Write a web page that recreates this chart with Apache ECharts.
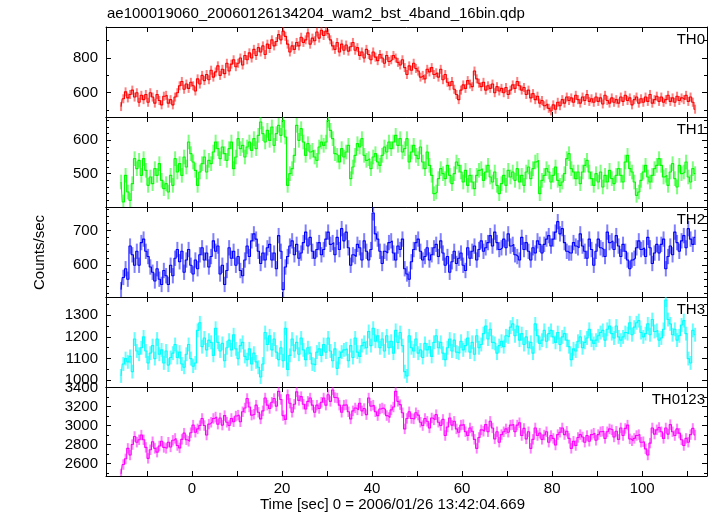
<!DOCTYPE html>
<html>
<head>
<meta charset="utf-8">
<script src="https://cdn.jsdelivr.net/npm/echarts@6/dist/echarts.min.js"></script>
<style>html,body{margin:0;padding:0;background:#fff;}#c{width:717px;height:516px;}</style>
</head>
<body>
<div id="c"></div>
<script>
// bins: 0.5 s wide, first bin centre at -15.75 s
const tStart = -15.75;
const binWidth = 0.5;

const th0 = [
520,565,605,570,590,615,575,600,545,585,
560,590,545,600,575,540,590,555,530,580,
585,540,560,530,575,600,640,665,620,650,
625,660,640,610,680,650,700,670,705,675,
730,690,720,755,700,735,710,770,725,765,
790,750,770,800,760,815,790,830,800,850,
815,860,835,870,820,880,855,905,870,895,
935,905,955,925,880,835,870,850,890,870,
920,890,905,945,880,915,900,950,915,960,
930,955,940,905,870,850,890,835,880,845,
875,840,865,890,845,860,815,835,800,850,
820,790,835,805,785,820,800,770,815,780,
790,815,800,775,760,790,745,705,755,730,
770,740,725,690,700,680,735,720,745,705,
715,690,735,675,705,660,640,665,620,590,
560,615,645,625,670,650,635,725,680,655,
635,660,615,640,625,650,600,635,610,625,
600,630,590,615,645,625,665,640,615,630,
590,615,570,595,560,580,540,555,525,535,
510,495,530,505,545,525,560,540,575,555,
570,545,585,560,540,575,555,590,550,565,
545,575,550,570,535,585,555,540,570,545,
560,540,575,550,585,555,570,530,560,575,
540,565,545,575,550,590,540,560,580,550,
575,545,560,585,550,570,545,580,555,570,
560,585,550,575,545,505];

const th1 = [
475,415,495,445,420,470,545,515,540,495,
545,510,465,490,470,515,495,530,480,455,
470,445,495,465,545,505,530,495,550,520,
595,560,535,510,465,505,530,550,505,540,
530,565,595,575,545,580,560,540,575,595,
515,550,605,575,585,550,580,595,570,605,
575,615,655,620,595,630,600,640,585,620,
645,615,660,610,465,500,515,555,645,600,
635,595,555,590,565,570,550,540,580,595,
585,595,660,630,605,560,555,535,575,550,
565,585,485,520,555,590,580,605,555,540,
545,515,550,560,535,525,555,580,565,595,
575,595,615,585,605,565,575,605,535,565,
585,555,545,580,535,515,565,525,495,440,
445,485,515,500,485,525,495,470,500,535,
525,505,475,510,465,495,475,455,495,510,
515,480,505,525,490,475,505,465,440,470,
495,465,510,490,505,480,515,475,495,465,
505,520,485,515,535,540,440,480,495,515,
505,475,495,520,480,465,475,500,545,560,
515,505,485,505,470,505,525,540,505,485,
465,500,475,505,460,495,475,510,485,470,
495,515,495,475,535,555,515,505,475,435,
445,480,505,525,490,475,495,515,525,545,
525,490,495,465,505,530,485,460,525,500,
505,535,490,475,515,500];

const th2 = [
530,565,590,560,655,630,600,640,600,665,
675,640,625,595,580,555,590,560,545,585,
570,545,600,570,620,645,610,640,580,615,
645,600,575,615,590,630,650,615,635,595,
625,670,640,655,575,600,545,585,650,620,
640,600,625,585,570,615,655,625,670,690,
675,640,605,635,615,650,660,615,635,590,
685,640,530,595,625,655,670,630,660,620,
635,665,695,655,680,640,620,645,665,630,
645,675,695,660,665,630,680,645,705,670,
695,650,600,630,625,660,650,615,670,640,
615,645,750,690,675,640,605,640,635,665,
670,635,615,655,645,675,590,575,560,610,
645,665,675,640,615,625,650,615,630,650,
660,625,670,635,600,625,580,610,640,605,
620,635,600,585,650,620,640,655,615,645,
670,640,650,665,685,655,695,665,645,650,
675,650,690,655,660,630,625,615,680,645,
665,640,615,650,635,670,660,635,660,675,
685,655,675,695,725,690,705,665,640,635,
635,665,655,650,690,655,640,620,675,645,
600,640,675,650,645,625,695,665,670,645,
685,655,625,660,640,615,590,615,620,650,
670,645,650,625,680,650,605,635,660,635,
660,675,590,625,655,630,695,665,640,670,
685,650,705,675,660,680];

const th3 = [
1020,1075,1100,1085,1110,1040,1190,1135,1120,1150,
1200,1135,1080,1125,1160,1100,1190,1120,1140,1080,
1135,1070,1105,1125,1165,1105,1130,1075,1060,1120,
1165,1100,1065,1080,1230,1265,1155,1195,1140,1185,
1175,1115,1240,1175,1135,1170,1090,1150,1185,1140,
1210,1145,1100,1160,1175,1110,1095,1145,1075,1125,
1085,1060,1015,1075,1220,1165,1205,1140,1190,1130,
1095,1150,1090,1240,1050,1115,1190,1135,1175,1120,
1195,1140,1095,1150,1125,1075,1070,1130,1145,1115,
1165,1130,1195,1135,1090,1145,1055,1105,1130,1140,
1145,1090,1160,1105,1195,1130,1110,1160,1175,1150,
1225,1160,1240,1180,1205,1150,1190,1135,1205,1150,
1180,1125,1230,1175,1220,1160,1040,1020,1205,1150,
1135,1190,1125,1140,1105,1170,1140,1155,1110,1175,
1205,1150,1175,1125,1095,1150,1190,1135,1185,1130,
1125,1180,1140,1160,1195,1130,1175,1120,1205,1150,
1165,1215,1250,1190,1235,1175,1170,1125,1160,1180,
1155,1205,1200,1245,1260,1205,1250,1185,1215,1165,
1200,1150,1175,1125,1260,1205,1170,1185,1230,1180,
1215,1230,1200,1175,1220,1165,1200,1215,1185,1155,
1095,1145,1135,1180,1200,1150,1175,1195,1235,1185,
1170,1185,1205,1220,1230,1185,1235,1250,1215,1195,
1250,1200,1185,1200,1220,1215,1265,1210,1245,1265,
1275,1220,1200,1215,1260,1210,1280,1225,1230,1185,
1195,1235,1370,1280,1260,1210,1235,1185,1205,1255,
1275,1215,1100,1080,1230,1210];

const th0123 = [
2490,2590,2650,2760,2690,2800,2885,2825,2850,2900,
2850,2770,2655,2745,2830,2760,2720,2785,2835,2770,
2760,2825,2775,2845,2865,2790,2765,2855,2920,2850,
2835,2925,3005,2930,2965,3000,3075,3000,2900,3015,
3035,3075,3090,3015,3080,3005,3105,3035,3000,3075,
3040,3100,3110,3040,3145,3185,3285,3195,3110,3120,
3215,3140,3070,3155,3290,3215,3180,3245,3285,3205,
3360,3275,3105,3065,3325,3235,3140,3225,3355,3265,
3305,3225,3175,3255,3290,3215,3140,3215,3180,3245,
3290,3215,3325,3255,3375,3295,3290,3215,3140,3215,
3220,3145,3070,3155,3185,3165,3235,3155,3180,3115,
3290,3205,3215,3145,3105,3175,3185,3170,3105,3085,
3165,3195,3360,3255,3220,3135,2965,3075,3145,3075,
3070,3135,3110,3035,3000,3075,3045,2975,3080,3060,
3115,3035,3000,3065,2895,2985,3080,3005,3045,2965,
2930,3005,3010,2935,2895,2975,2940,2855,2760,2875,
2955,2940,3010,2935,3045,2975,2860,2935,2825,2905,
2935,2965,2930,3005,3010,2935,3005,3030,2895,2970,
2860,2935,2760,2855,2975,2895,2920,2855,2900,2935,
2825,2895,2865,2795,2905,2930,2975,2905,2940,2865,
2760,2835,2790,2875,2905,2880,2825,2895,2835,2905,
2920,2845,2905,2935,2940,2865,2935,2965,2955,2880,
2940,2855,2975,2895,2970,3005,2860,2840,2865,2895,
2905,2825,2830,2755,2690,2815,2975,2910,2955,2980,
2935,2865,2975,2910,3010,2935,2895,2965,2920,2850,
2790,2865,2825,2905,2970,2900];

const panelNames = ['TH0', 'TH1', 'TH2', 'TH3', 'TH0123'];
const panelErrors = [26, 22, 22, 32, 55];

const xTicks = [-10, 0, 10, 20, 30, 40, 50, 60, 70, 80, 90, 100, 110];
const xLabels = [0, 20, 40, 60, 80, 100];

const yMajorTicks = [
  [600, 800],
  [500, 600],
  [600, 700],
  [1000, 1100, 1200, 1300],
  [2600, 2800, 3000, 3200, 3400]
];
const yMinorTicks = [
  [500, 700, 900],
  [420, 440, 460, 480, 520, 540, 560, 580, 620, 640, 660],
  [520, 540, 560, 580, 620, 640, 660, 680, 720, 740, 760],
  [1050, 1150, 1250, 1350],
  [2500, 2700, 2900, 3100, 3300]
];

// ---- style / layout ----
const seriesData = [th0, th1, th2, th3, th0123];
const yMin = [460, 400, 509, 969, 2469];
const yMax = [979, 670, 767, 1384, 3406];
const colors = ['#ff0000', '#00ff00', '#0000ff', '#00ffff', '#ff00ff'];
const errColors = ['rgba(255,0,0,0.5)', 'rgba(0,255,0,0.5)', 'rgba(0,0,255,0.5)', 'rgba(0,255,255,0.6)', 'rgba(255,0,255,0.5)'];
const gridTops = [27, 117, 207, 297, 387];
const gridHeights = [90, 90, 90, 90, 89];
const FONT = 'Liberation Sans, Arial, Helvetica, sans-serif';
const xMin = -19.1, xMax = 114.4;
const plain = function (v) { return String(v); };

const grids = [], xAxes = [], yAxes = [], series = [], graphics = [];
for (let g = 0; g < 5; g++) {
  grids.push({left: 106, width: 601, top: gridTops[g], height: gridHeights[g], containLabel: false});
  const isBottom = g === 4;
  ['bottom', 'top'].forEach(function (pos) {
    xAxes.push({
      type: 'value', gridIndex: g, position: pos, min: xMin, max: xMax,
      axisLine: {show: true, onZero: false, lineStyle: {color: '#000', width: 1}},
      axisTick: {show: true, inside: true, length: 5, customValues: xTicks, lineStyle: {color: '#000'}},
      axisLabel: {show: isBottom && pos === 'bottom', customValues: xLabels, formatter: plain, color: '#000', fontSize: 15, fontFamily: FONT, margin: 5},
      splitLine: {show: false}
    });
  });
  ['left', 'right'].forEach(function (pos) {
    yAxes.push({
      type: 'value', gridIndex: g, position: pos, min: yMin[g], max: yMax[g],
      axisLine: {show: true, onZero: false, lineStyle: {color: '#000', width: 1}},
      axisTick: {show: true, inside: true, length: 5, customValues: yMajorTicks[g], lineStyle: {color: '#000'}},
      axisLabel: {show: pos === 'left', customValues: yMajorTicks[g], formatter: plain, color: '#000', fontSize: 15, fontFamily: FONT, margin: 8},
      splitLine: {show: false}
    });
    yAxes.push({
      type: 'value', gridIndex: g, position: pos, min: yMin[g], max: yMax[g],
      axisLine: {show: false, onZero: false},
      axisTick: {show: true, inside: true, length: 3, customValues: yMinorTicks[g], lineStyle: {color: '#000'}},
      axisLabel: {show: false},
      splitLine: {show: false}
    });
  });
  const vals = seriesData[g];
  const lineData = [], errData = [];
  for (let i = 0; i < vals.length; i++) {
    const t = tStart + i * binWidth;
    lineData.push([t, vals[i]]);
    errData.push([t, vals[i], panelErrors[g]]);
  }
  const errColor = errColors[g];
  series.push({
    type: 'custom', xAxisIndex: g * 2, yAxisIndex: g * 4, clip: true, z: 2,
    data: errData, animation: false, silent: true,
    renderItem: function (params, api) {
      const x = api.value(0), v = api.value(1), e = api.value(2);
      const p1 = api.coord([x, v - e]);
      const p2 = api.coord([x, v + e]);
      return {type: 'line', shape: {x1: p1[0], y1: p1[1], x2: p2[0], y2: p2[1]},
        style: {stroke: errColor, lineWidth: 2}};
    }
  });
  series.push({
    type: 'line', xAxisIndex: g * 2, yAxisIndex: g * 4, step: 'middle', clip: true, z: 3,
    data: lineData, showSymbol: false, symbol: 'none', animation: false, silent: true,
    lineStyle: {color: colors[g], width: 1.1}
  });
  graphics.push({
    type: 'text', right: 12, top: gridTops[g] + 5, z: 10,
    style: {text: panelNames[g], font: '15px ' + FONT, fill: '#000', textAlign: 'right'}
  });
}

graphics.push({type: 'text', left: 107, top: 6,
  style: {text: 'ae100019060_20060126134204_wam2_bst_4band_16bin.qdp', font: '15px ' + FONT, fill: '#000'}});
graphics.push({type: 'text', left: 260, top: 497,
  style: {text: 'Time [sec] 0 = 2006/01/26 13:42:04.669', font: '15px ' + FONT, fill: '#000'}});
graphics.push({type: 'text', x: 32, y: 290, rotation: Math.PI / 2,
  style: {text: 'Counts/sec', font: '15px ' + FONT, fill: '#000', textAlign: 'left', textVerticalAlign: 'top'}});

const chart = echarts.init(document.getElementById('c'), null, {renderer: 'canvas'});
chart.setOption({
  backgroundColor: '#fff',
  animation: false,
  grid: grids,
  xAxis: xAxes,
  yAxis: yAxes,
  series: series,
  graphic: graphics
});
</script>
</body>
</html>
